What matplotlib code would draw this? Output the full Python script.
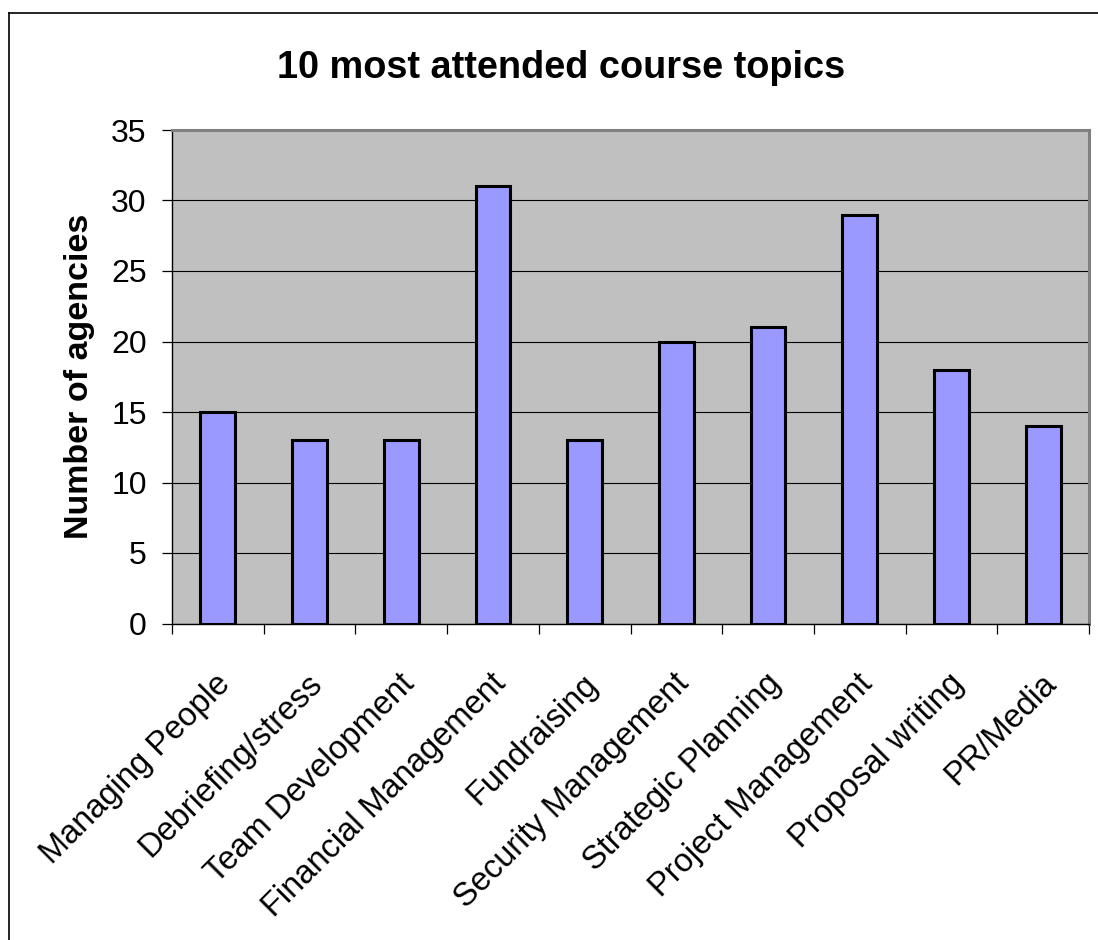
import matplotlib
matplotlib.use("Agg")
import matplotlib.pyplot as plt
from matplotlib.lines import Line2D
from matplotlib.transforms import ScaledTranslation
import numpy as np

plt.rcParams['font.family'] = ['Liberation Sans', 'DejaVu Sans']

# Course topics and how many agencies attended each
topics = ["Managing People", "Debriefing/stress", "Team Development",
          "Financial Management", "Fundraising", "Security Management",
          "Strategic Planning", "Project Management", "Proposal writing",
          "PR/Media"]
agencies = [15, 13, 13, 31, 13, 20, 21, 29, 18, 14]
y_ticks = [0, 5, 10, 15, 20, 25, 30, 35]

W, H = 1098, 940
fig = plt.figure(figsize=(W / 100, H / 100), dpi=100)
fig.patch.set_facecolor("white")

# Outer chart-area border (left and top edges visible)
bx, by = 9 / W, 1 - 13 / H
fig.add_artist(Line2D([bx, 1.01], [by, by], transform=fig.transFigure,
                      color="black", lw=1.2))
fig.add_artist(Line2D([bx, bx], [by, -0.01], transform=fig.transFigure,
                      color="black", lw=1.2))

left, right = 172 / W, 1089 / W
top, bottom = 1 - 130 / H, 1 - 623.5 / H
ax = fig.add_axes([left, bottom, right - left, top - bottom])
ax.set_facecolor("#C0C0C0")

x = np.arange(len(topics))
ax.bar(x, agencies, width=0.38, color="#9999FF", edgecolor="black",
       linewidth=2.2, zorder=3)

ax.set_xlim(-0.5, len(topics) - 0.5)
ax.set_ylim(0, 35)
ax.set_yticks(y_ticks)
ax.yaxis.grid(True, color="black", linewidth=0.8, zorder=1)
ax.set_axisbelow(True)

ax.tick_params(axis="y", direction="out", length=7.2, width=0.9,
               labelsize=23, pad=11, color="black")

# Ticks at category boundaries, labels at category centres
ax.set_xticks(np.arange(-0.5, len(topics)), labels=[])
ax.set_xticks(x, labels=topics, minor=True)
ax.tick_params(axis="x", which="major", direction="out", length=7.2,
               width=0.9, color="black")
ax.tick_params(axis="x", which="minor", length=0, labelsize=23.5, pad=40)
shift = ScaledTranslation(8 / 100, 0, fig.dpi_scale_trans)
for lab in ax.get_xticklabels(minor=True):
    lab.set_rotation(45)
    lab.set_ha("right")
    lab.set_va("center")
    lab.set_rotation_mode("anchor")
    lab.set_transform(lab.get_transform() + shift)

for side in ("top", "right"):
    ax.spines[side].set_color("#808080")
    ax.spines[side].set_linewidth(2.2)
for side in ("left", "bottom"):
    ax.spines[side].set_color("black")
    ax.spines[side].set_linewidth(1.0)

ax.set_ylabel("Number of agencies", fontsize=24.5, fontweight="bold")
ax.yaxis.set_label_coords((95 - 172) / (1089 - 172), 0.5)

fig.text(561 / W, 1 - 78 / H, "10 most attended course topics",
         fontsize=27.3, fontweight="bold", ha="center", va="baseline")

fig.savefig("out.png", dpi=100, facecolor="white")
